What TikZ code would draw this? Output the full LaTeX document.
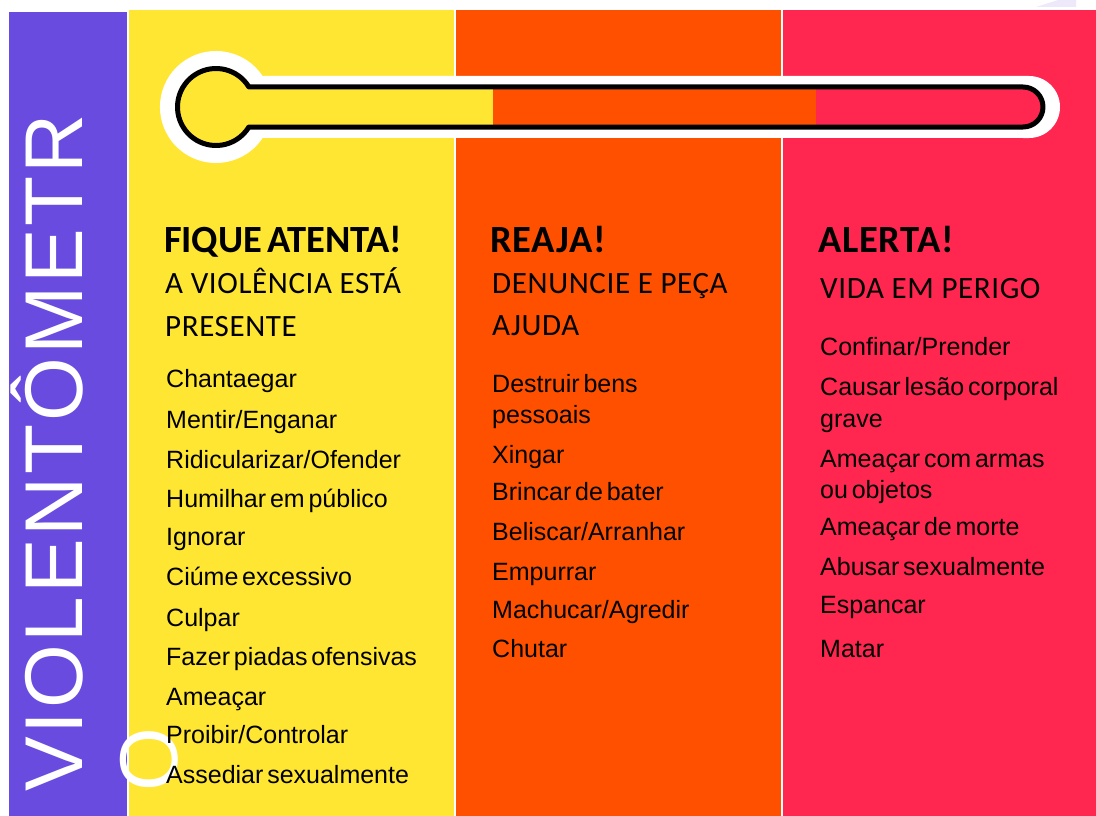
\documentclass[tikz,border=0pt]{standalone}
\usepackage{fontspec}
\setmainfont{Liberation Sans}[WordSpace=0.55]
\newfontfamily\headfont{Carlito}[LetterSpace=2,WordSpace=0.6]
\newfontfamily\headfonttight{Carlito}[LetterSpace=-0.3,WordSpace=0.6]
\newfontfamily\subfont{Carlito}[LetterSpace=2]
\newfontfamily\vertfont{Liberation Sans}[LetterSpace=3.4]
\definecolor{cpurple}{RGB}{106,75,224}
\definecolor{cyellow}{RGB}{255,230,50}
\definecolor{corange}{RGB}{255,80,0}
\definecolor{cred}{RGB}{255,38,80}
\tikzset{
  item/.style={anchor=base west, inner sep=0pt, font=\fontsize{25}{25}\selectfont},
  head/.style={anchor=base west, inner sep=0pt, font=\headfont\bfseries\fontsize{38.5}{38.5}\selectfont},
  headtight/.style={anchor=base west, inner sep=0pt, font=\headfonttight\bfseries\fontsize{38.5}{38.5}\selectfont},
  sub/.style={anchor=base west, inner sep=0pt, font=\subfont\fontsize{31}{31}\selectfont},
  vert/.style={rotate=90, anchor=base west, inner sep=0pt, text=white, font=\vertfont\fontsize{82}{82}\selectfont}
}
\begin{document}
\begin{tikzpicture}[x=1pt,y=-1pt]
\useasboundingbox (0,0) rectangle (1096,816);
\fill[white] (0,0) rectangle (1096,816);
% columns
\fill[cpurple] (9,12) rectangle (126.5,816);
\fill[cyellow] (128.5,10) rectangle (453.5,816);
\fill[corange] (455.5,10) rectangle (780.5,816);
\fill[cred] (783,10) rectangle (1096,816);
\fill[cpurple!12] (1036,7) -- (1058,0) -- (1076,0) -- (1076,7) -- cycle;
% thermometer halo
\fill[white] (262.6,76) arc[start angle=-33.6, end angle=-326.4, radius=56] -- (1029,138) arc[start angle=90, end angle=-90, radius=31] -- cycle;
% thermometer fill
\begin{scope}
\clip (248.9,87) arc[start angle=-31.3, end angle=-328.7, radius=38.5] -- (1023,127) arc[start angle=90, end angle=-90, radius=20] -- cycle;
\fill[cyellow] (150,50) rectangle (493,160);
\fill[corange] (493,50) rectangle (816,160);
\fill[cred] (816,50) rectangle (1080,160);
\end{scope}
\draw[line width=5pt, line join=round] (248.9,87) arc[start angle=-31.3, end angle=-328.7, radius=38.5] -- (1023,127) arc[start angle=90, end angle=-90, radius=20] -- cycle;
% vertical title
\node[vert] (title) at (82,792) {VIOLENTÔMETR};
\node[vert] (titleo) at (177,792) {O};
% yellow column
\node[headtight] (h1) at (164,252) {FIQUE ATENTA!};
\node[sub] (s1a) at (165,293) {A VIOLÊNCIA ESTÁ};
\node[sub] (s1b) at (165,336) {PRESENTE};
\node[item] (y1) at (166,387) {Chantaegar};
\node[item] (y2) at (166,428) {Mentir/Enganar};
\node[item] (y3) at (166,468) {Ridicularizar/Ofender};
\node[item] (y4) at (166,507) {Humilhar em público};
\node[item] (y5) at (166,545) {Ignorar};
\node[item] (y6) at (166,585) {Ciúme excessivo};
\node[item] (y7) at (166,626) {Culpar};
\node[item] (y8) at (166,665) {Fazer piadas ofensivas};
\node[item] (y9) at (166,705) {Ameaçar};
\node[item] (y10) at (166,743) {Proibir/Controlar};
\node[item] (y11) at (166,783) {Assediar sexualmente};
% orange column
\node[head] (h2) at (490,252) {REAJA!};
\node[sub] (s2a) at (492,293) {DENUNCIE E PEÇA};
\node[sub] (s2b) at (492,335) {AJUDA};
\node[item] (o1) at (492,392) {Destruir bens};
\node[item] (o1b) at (492,423) {pessoais};
\node[item] (o2) at (492,463) {Xingar};
\node[item] (o3) at (492,500) {Brincar de bater};
\node[item] (o4) at (492,540) {Beliscar/Arranhar};
\node[item] (o5) at (492,580) {Empurrar};
\node[item] (o6) at (492,618) {Machucar/Agredir};
\node[item] (o7) at (492,657) {Chutar};
% red column
\node[head] (h3) at (818,252) {ALERTA!};
\node[sub] (s3a) at (820,298) {VIDA EM PERIGO};
\node[item] (r1) at (820,355) {Confinar/Prender};
\node[item] (r2) at (820,395) {Causar lesão corporal};
\node[item] (r2b) at (820,427) {grave};
\node[item] (r3) at (820,467) {Ameaçar com armas};
\node[item] (r3b) at (820,498) {ou objetos};
\node[item] (r4) at (820,535) {Ameaçar de morte};
\node[item] (r5) at (820,575) {Abusar sexualmente};
\node[item] (r6) at (820,613) {Espancar};
\node[item] (r7) at (820,657) {Matar};
\end{tikzpicture}
\end{document}
